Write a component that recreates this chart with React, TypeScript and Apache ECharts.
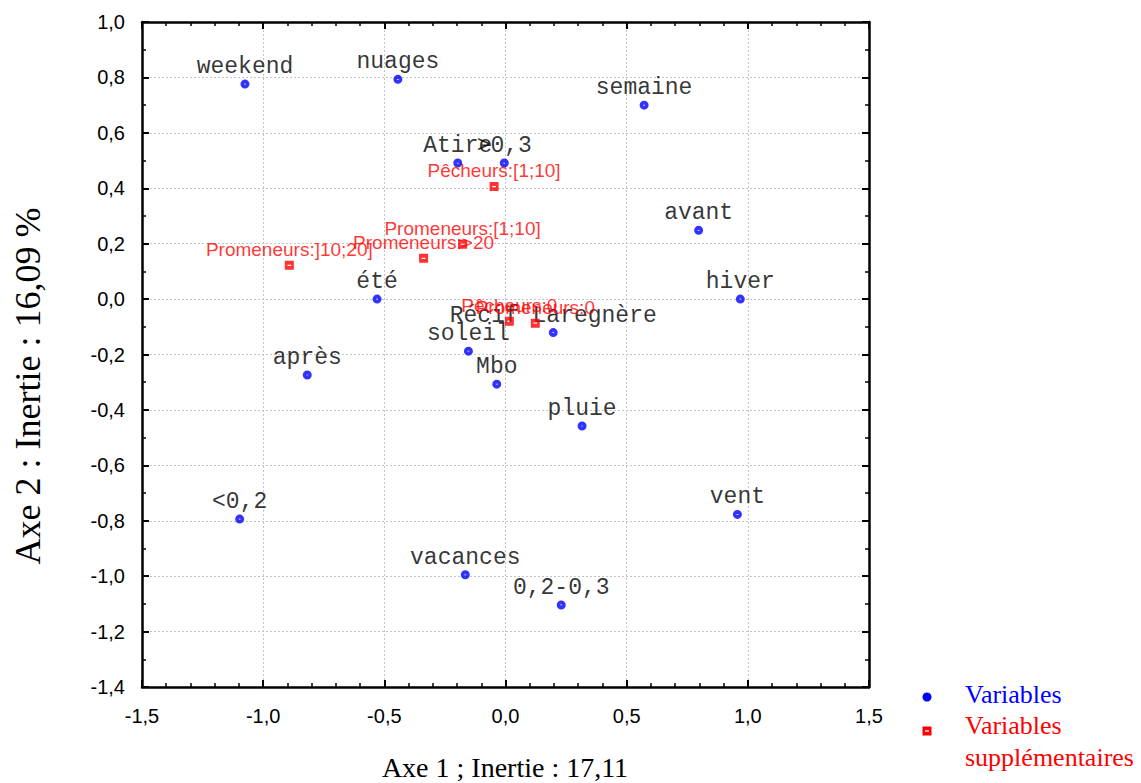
import React, { useEffect, useRef } from "react";
import * as echarts from "echarts";

// Variables (active) – coordinates on Axe 1 / Axe 2
const varNames = [
  "weekend", "nuages", "semaine", "Atire", ">0,3", "avant", "hiver", "été",
  "Récif Laregnère", "soleil", "après", "Mbo", "pluie", "<0,2", "vent",
  "vacances", "0,2-0,3",
];
const varX = [
  -1.075, -0.444, 0.572, -0.197, -0.005, 0.797, 0.969, -0.53,
  0.197, -0.153, -0.818, -0.036, 0.316, -1.097, 0.957,
  -0.166, 0.23,
];
const varY = [
  0.776, 0.793, 0.7, 0.491, 0.491, 0.248, 0.0, 0.0,
  -0.121, -0.188, -0.274, -0.307, -0.458, -0.794, -0.777,
  -0.995, -1.104,
];

// Variables supplémentaires
const supNames = [
  "Pêcheurs:[1;10]", "Promeneurs:]10;20]", "Promeneurs:>20",
  "Promeneurs:[1;10]", "Pêcheurs:0", "Promeneurs:0",
];
const supX = [-0.047, -0.892, -0.338, -0.177, 0.016, 0.123];
const supY = [0.406, 0.122, 0.147, 0.198, -0.08, -0.087];

const xTitle = "Axe 1 ; Inertie : 17,11";
const yTitle = "Axe 2 : Inertie : 16,09 %";
const legendNames = ["Variables", "Variables", "supplémentaires"];

const fmt = (v: number) => {
  const n = Math.abs(v) < 1e-9 ? 0 : v;
  return n.toFixed(1).replace(".", ",");
};

const BLUE = "#0000ff";
const RED = "#ff0000";
const circleSym =
  "path://M5,0A5,5 0 1,1 5,10A5,5 0 1,1 5,0Z M4,4.6L4,5.4L6,5.4L6,4.6Z";
const squareSym = "path://M0,0L10,0L10,10L0,10Z M3,4.3L3,5.7L7,5.7L7,4.3Z";

export default function App() {
  const ref = useRef<HTMLDivElement>(null);
  useEffect(() => {
    if (!ref.current) return;
    const chart = echarts.init(ref.current, undefined, { renderer: "svg" });

    const tickBase = {
      axisLine: { show: true, onZero: false, lineStyle: { color: "#000", width: 2.5 } },
      axisTick: { show: true, inside: true, length: 7, lineStyle: { color: "#000", width: 2 } },
      minorTick: { show: true, length: 4, lineStyle: { color: "#000", width: 1.5 } },
    };

    const xCommon = {
      type: "value",
      min: -1.5,
      max: 1.5,
      interval: 0.5,
      ...tickBase,
      minorTick: { ...tickBase.minorTick, splitNumber: 5 },
    };
    const yCommon = {
      type: "value",
      min: -1.4,
      max: 1.0,
      interval: 0.2,
      ...tickBase,
      minorTick: { ...tickBase.minorTick, splitNumber: 2 },
    };
    const split = {
      show: true,
      lineStyle: { color: "#c4c4c4", width: 1, type: [2, 2] },
    };

    chart.setOption({
      animation: false,
      backgroundColor: "#ffffff",
      grid: {
        left: 142,
        top: 22,
        width: 727,
        height: 665,
        outerBoundsMode: "none",
      },
      xAxis: [
        {
          ...xCommon,
          position: "bottom",
          splitLine: split,
          axisLabel: {
            formatter: fmt,
            margin: 19,
            color: "#000",
            fontFamily: "Liberation Sans",
            fontSize: 20,
          },
        },
        {
          ...xCommon,
          position: "top",
          splitLine: { show: false },
          axisLabel: { show: false },
        },
      ],
      yAxis: [
        {
          ...yCommon,
          position: "left",
          splitLine: split,
          axisLabel: {
            formatter: fmt,
            margin: 17,
            color: "#000",
            fontFamily: "Liberation Sans",
            fontSize: 20,
          },
        },
        {
          ...yCommon,
          position: "right",
          splitLine: { show: false },
          axisLabel: { show: false },
        },
      ],
      series: [
        {
          name: "Variables",
          type: "scatter",
          xAxisIndex: 0,
          yAxisIndex: 0,
          symbol: circleSym,
          symbolSize: 9,
          itemStyle: { color: BLUE },
          label: {
            show: true,
            position: "top",
            distance: 1,
            formatter: "{b}",
            color: "#000",
            fontFamily: "Liberation Mono",
            fontSize: 23,
          },
          data: varNames.map((n, i) => ({ name: n, value: [varX[i], varY[i]] })),
          z: 3,
        },
        {
          name: "Variables supplémentaires",
          type: "scatter",
          xAxisIndex: 0,
          yAxisIndex: 0,
          symbol: squareSym,
          symbolSize: 9,
          itemStyle: { color: RED },
          label: {
            show: true,
            position: "top",
            distance: 2,
            formatter: "{b}",
            color: RED,
            fontFamily: "Liberation Sans",
            fontSize: 19,
          },
          data: supNames.map((n, i) => ({ name: n, value: [supX[i], supY[i]] })),
          z: 4,
        },
      ],
      graphic: [
        {
          type: "text",
          x: 505,
          y: 767,
          style: {
            text: xTitle,
            fill: "#000",
            font: '28px "Liberation Serif"',
            textAlign: "center",
            textVerticalAlign: "middle",
          },
        },
        {
          type: "text",
          x: 28,
          y: 386,
          rotation: Math.PI / 2,
          style: {
            text: yTitle,
            fill: "#000",
            font: '36px "Liberation Serif"',
            textAlign: "center",
            textVerticalAlign: "middle",
          },
        },
        {
          type: "circle",
          shape: { cx: 927, cy: 697, r: 4.5 },
          style: { fill: BLUE },
        },
        {
          type: "rect",
          shape: { x: 922.5, y: 726.5, width: 9, height: 9 },
          style: { fill: RED },
        },
        {
          type: "rect",
          shape: { x: 925, y: 730.3, width: 4, height: 1.4 },
          style: { fill: "#fff" },
        },
        {
          type: "text",
          x: 965,
          y: 694,
          style: {
            text: legendNames[0],
            fill: BLUE,
            font: '26px "Liberation Serif"',
            textAlign: "left",
            textVerticalAlign: "middle",
          },
        },
        {
          type: "text",
          x: 965,
          y: 725,
          style: {
            text: legendNames[1],
            fill: RED,
            font: '26px "Liberation Serif"',
            textAlign: "left",
            textVerticalAlign: "middle",
          },
        },
        {
          type: "text",
          x: 965,
          y: 757,
          style: {
            text: legendNames[2],
            fill: RED,
            font: '26px "Liberation Serif"',
            textAlign: "left",
            textVerticalAlign: "middle",
          },
        },
      ],
    });
    return () => chart.dispose();
  }, []);

  return (
    <div
      ref={ref}
      style={{
        position: "fixed",
        left: 0,
        top: 0,
        width: 1141,
        height: 783,
        background: "#fff",
      }}
    />
  );
}
